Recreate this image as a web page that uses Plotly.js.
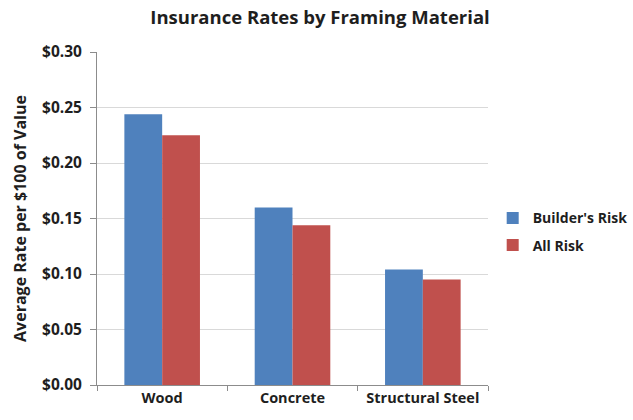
<!DOCTYPE html>
<html>
<head>
<meta charset="utf-8">
<script src="https://cdn.plot.ly/plotly-3.0.1.min.js"></script>
<style>html,body{margin:0;padding:0;background:#fff;}#chart{width:633px;height:420px;}</style>
</head>
<body>
<div id="chart"></div>
<script>
var categories = ["Wood", "Concrete", "Structural Steel"];
var buildersRisk = [0.244, 0.160, 0.104];
var allRisk = [0.225, 0.144, 0.095];
var seriesNames = ["Builder's Risk", "All Risk"];
var yTickVals = [0, 0.05, 0.10, 0.15, 0.20, 0.25, 0.30];
var yTickText = ["$0.00", "$0.05", "$0.10", "$0.15", "$0.20", "$0.25", "$0.30"];

var fontFam = "'Open Sans', sans-serif";
var txt = "#1e1e1e";
var data = [
  {type: "bar", x: categories, y: buildersRisk, name: seriesNames[0], legendgroup: "a",
   marker: {color: "#4F81BD"}},
  {type: "bar", x: categories, y: allRisk, name: seriesNames[1], legendgroup: "b",
   marker: {color: "#C0504D"}}
];
var layout = {
  width: 633, height: 420,
  margin: {l: 97, r: 145, t: 52, b: 35, autoexpand: false},
  paper_bgcolor: "#fff", plot_bgcolor: "#fff",
  barmode: "group", bargap: 0.42, bargroupgap: 0,
  title: {text: "Insurance Rates by Framing Material", x: 320/633, xref: "container", xanchor: "center",
          y: 1 - 18/420, yref: "container", yanchor: "middle",
          font: {family: fontFam, size: 18.5, weight: "bold", color: txt}},
  font: {family: fontFam, color: txt},
  xaxis: {type: "category", showgrid: false, showline: true, linecolor: "#8c8c8c", linewidth: 1,
          ticks: "outside", tickson: "boundaries", ticklen: 5, tickcolor: "#8c8c8c", tickangle: 0,
          automargin: false,
          tickfont: {family: fontFam, size: 14.5, weight: "bold", color: txt}},
  yaxis: {range: [0, 0.30], tickvals: yTickVals, ticktext: yTickText, automargin: false,
          showgrid: true, gridcolor: "#d9d9d9", gridwidth: 1,
          showline: true, linecolor: "#8c8c8c", linewidth: 1, zeroline: false,
          ticks: "outside", ticklen: 6, tickcolor: "#8c8c8c", ticklabelstandoff: 5,
          tickfont: {family: fontFam, size: 15.5, weight: "bold", color: txt},
          title: {text: "Average Rate per $100 of Value", standoff: 11,
                  font: {family: fontFam, size: 16, weight: "bold", color: txt}}},
  legend: {x: 1.012, y: 0.46, xanchor: "left", yanchor: "middle", tracegroupgap: 6,
           font: {family: fontFam, size: 14, weight: "bold", color: txt},
           bgcolor: "rgba(0,0,0,0)"},
  showlegend: true
};
Plotly.newPlot("chart", data, layout, {displayModeBar: false, staticPlot: true});
</script>
</body>
</html>
